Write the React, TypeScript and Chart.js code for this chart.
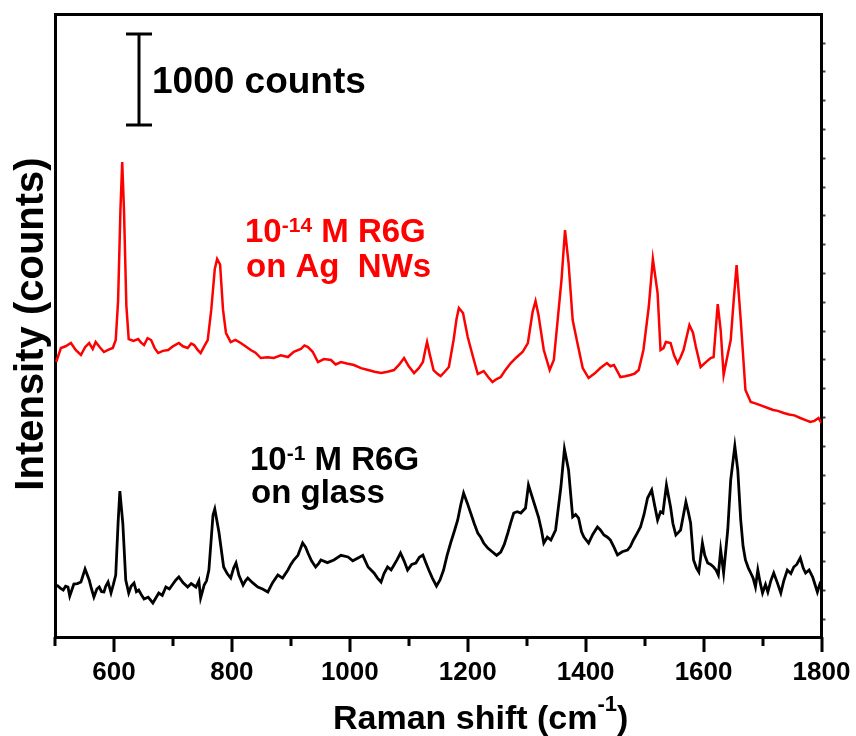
import React, { useEffect, useRef } from 'react';
import { Chart, registerables } from 'chart.js';

Chart.register(...registerables);

const FONT = '"Liberation Sans", Arial, Helvetica, sans-serif';

// Axis ranges (x: Raman shift in cm-1, y: counts)
const xMin = 500;
const xMax = 1800;
const yMin = -198;
const yMax = 6650;
const xMajorTicks = [600, 800, 1000, 1200, 1400, 1600, 1800];
const xMinorTicks = [500, 700, 900, 1100, 1300, 1500, 1700];
const rightTickValues = [0, 316.8, 633.6, 950.4, 1267.2, 1584, 1900.8, 2217.6, 2534.4, 2851.2, 3168, 3484.8, 3801.6, 4118.4, 4435.2, 4752, 5068.8, 5385.6, 5702.4, 6019.2, 6336];

// Scale bar
const scaleBarCounts = 1000;
const scaleBarBase = 5434;
const scaleBarShift = 643;

// 10^-14 M R6G on Ag NWs (red)
const agShift = [
  502, 510, 518, 527, 535, 544, 551, 558, 564, 569,
  576, 583, 590, 598, 603, 607, 611, 614, 617, 621,
  625, 633, 641, 646, 651, 657, 663, 669, 675, 683,
  692, 700, 710, 717, 725, 731, 736, 742, 747, 753,
  759, 765, 771, 775, 780, 785, 790, 798, 806, 815,
  823, 832, 840, 849, 860, 871, 883, 895, 905, 917,
  923, 929, 937, 946, 956, 968, 976, 985, 995, 1007,
  1019, 1031, 1042, 1053, 1064, 1075, 1084, 1092, 1100, 1109,
  1117, 1124, 1128, 1131, 1136, 1142, 1148, 1154, 1161, 1168,
  1176, 1181, 1185, 1192, 1200, 1209, 1217, 1227, 1235, 1242,
  1249, 1256, 1264, 1273, 1283, 1293, 1302, 1310, 1315, 1320,
  1329, 1339, 1346, 1353, 1359, 1365, 1371, 1378, 1386, 1395,
  1405, 1415, 1425, 1436, 1442, 1448, 1459, 1467, 1476, 1483,
  1490, 1498, 1507, 1514, 1522, 1527, 1532, 1536, 1544, 1550,
  1556, 1561, 1566, 1576, 1582, 1587, 1595, 1603, 1612, 1617,
  1624, 1629, 1634, 1640, 1646, 1651, 1656, 1663, 1671, 1680,
  1689, 1697, 1709, 1718, 1726, 1736, 1745, 1754, 1764, 1772,
  1781, 1788, 1795, 1800,
];
const agCounts = [
  2827, 2981, 3000, 3036, 2960, 2904, 2990, 3036, 2970, 3047,
  2990, 2937, 2960, 2981, 3069, 3500, 4500, 5027, 4500, 3450,
  3080, 3060, 3080, 3040, 3014, 3090, 3069, 2980, 2926, 2950,
  2959, 3000, 3036, 3000, 2981, 3030, 3014, 2960, 2926, 3000,
  3069, 3400, 3850, 3960, 3900, 3400, 3146, 3047, 3070, 3036,
  3000, 2959, 2930, 2871, 2880, 2871, 2900, 2882, 2940, 2970,
  3010, 2992, 2940, 2827, 2860, 2849, 2800, 2827, 2810, 2794,
  2760, 2739, 2720, 2706, 2720, 2739, 2800, 2871, 2780, 2706,
  2760, 2827, 2960, 3047, 2900, 2739, 2700, 2673, 2720, 2772,
  3069, 3300, 3421, 3366, 3102, 2882, 2695, 2728, 2660, 2607,
  2640, 2662, 2740, 2816, 2880, 2937, 3036, 3377, 3498, 3344,
  2959, 2739, 2849, 3322, 3729, 4279, 3916, 3289, 3036, 2761,
  2651, 2700, 2761, 2816, 2780, 2794, 2662, 2670, 2684, 2700,
  2739, 2959, 3432, 3960, 3586, 2959, 2980, 3047, 3036, 2900,
  2816, 2880, 2959, 3234, 3150, 2992, 2772, 2820, 2871, 2882,
  3465, 3179, 2684, 2880, 3069, 3500, 3894, 3289, 2519, 2387,
  2370, 2350, 2321, 2300, 2290, 2266, 2250, 2240, 2211, 2190,
  2167, 2180, 2211, 2156,
];

// 10^-1 M R6G on glass (black)
const glassShift = [
  503, 509, 514, 518, 522, 525, 532, 538, 544, 551,
  558, 562, 566, 571, 575, 579, 583, 586, 590, 595,
  599, 603, 607, 610, 615, 620, 625, 629, 634, 638,
  642, 647, 651, 658, 666, 671, 676, 682, 688, 694,
  700, 705, 710, 717, 725, 731, 739, 744, 747, 750,
  753, 757, 761, 768, 771, 778, 786, 792, 798, 803,
  807, 812, 819, 823, 827, 835, 844, 852, 861, 869,
  878, 886, 895, 900, 905, 912, 920, 925, 929, 935,
  942, 947, 951, 962, 973, 985, 997, 1005, 1014, 1022,
  1031, 1036, 1041, 1047, 1053, 1058, 1064, 1070, 1075, 1080,
  1086, 1092, 1098, 1105, 1112, 1118, 1124, 1129, 1134, 1140,
  1147, 1153, 1159, 1165, 1171, 1177, 1183, 1188, 1193, 1199,
  1205, 1211, 1217, 1222, 1227, 1234, 1242, 1249, 1256, 1262,
  1268, 1273, 1278, 1284, 1290, 1298, 1303, 1312, 1320, 1325,
  1329, 1335, 1341, 1349, 1358, 1364, 1371, 1378, 1383, 1388,
  1393, 1397, 1405, 1412, 1420, 1425, 1431, 1437, 1442, 1448,
  1454, 1462, 1471, 1476, 1481, 1487, 1493, 1499, 1505, 1512,
  1517, 1522, 1527, 1531, 1537, 1544, 1548, 1553, 1557, 1561,
  1566, 1570, 1574, 1578, 1583, 1588, 1592, 1598, 1602, 1607,
  1612, 1617, 1621, 1625, 1629, 1634, 1641, 1646, 1653, 1658,
  1663, 1667, 1671, 1676, 1680, 1684, 1688, 1692, 1696, 1700,
  1705, 1709, 1714, 1719, 1725, 1731, 1736, 1742, 1748, 1753,
  1758, 1764, 1769, 1773, 1779, 1785, 1789, 1793, 1797, 1800,
];
const glassCounts = [
  374, 340, 319, 360, 352, 253, 385, 390, 407, 550,
  429, 330, 242, 330, 352, 300, 297, 360, 407, 286,
  380, 484, 1056, 1408, 1056, 429, 286, 360, 396, 300,
  319, 260, 220, 240, 176, 230, 286, 260, 352, 330,
  385, 430, 462, 400, 352, 390, 352, 420, 231, 300,
  374, 420, 539, 1144, 1210, 957, 572, 500, 451, 560,
  616, 480, 374, 420, 451, 400, 352, 330, 297, 400,
  484, 450, 539, 600, 649, 700, 836, 790, 726, 640,
  572, 610, 649, 620, 649, 700, 682, 640, 671, 700,
  572, 540, 506, 450, 407, 500, 572, 540, 594, 650,
  726, 640, 539, 600, 616, 680, 704, 620, 539, 450,
  363, 430, 539, 700, 836, 960, 1089, 1250, 1386, 1280,
  1166, 1050, 946, 900, 836, 780, 737, 700, 737, 820,
  946, 1060, 1166, 1180, 1166, 1221, 1474, 1287, 1122, 980,
  836, 900, 869, 979, 1452, 1870, 1639, 1122, 1150, 1111,
  960, 902, 836, 930, 1012, 980, 924, 900, 869, 790,
  704, 740, 759, 800, 869, 940, 1012, 1150, 1331, 1419,
  1250, 1089, 1180, 1166, 1474, 1232, 1050, 924, 950, 979,
  1150, 1287, 1180, 1056, 649, 560, 517, 836, 700, 616,
  600, 572, 540, 484, 759, 506, 979, 1529, 1903, 1639,
  1089, 800, 649, 560, 506, 450, 352, 539, 400, 286,
  380, 297, 420, 506, 400, 286, 420, 539, 500, 572,
  600, 671, 560, 506, 540, 462, 380, 297, 380, 341,
];

const xTitle = 'Raman shift (cm';
const xTitleSup = '-1';
const xTitleEnd = ')';
const yTitle = 'Intensity (counts)';
const scaleBarLabel = '1000 counts';
const agLabel1 = ['10', '-14', ' M R6G'];
const agLabel2 = 'on Ag  NWs';
const glassLabel1 = ['10', '-1', ' M R6G'];
const glassLabel2 = 'on glass';

type Seg = { t: string; size: number; rise: number };

function drawRich(ctx: CanvasRenderingContext2D, segs: Seg[], x: number, y: number) {
  let cx = x;
  for (const s of segs) {
    ctx.font = `bold ${s.size}px ${FONT}`;
    ctx.fillText(s.t, cx, y - s.rise);
    cx += ctx.measureText(s.t).width;
  }
}

const decorPlugin = {
  id: 'decor',
  afterDraw(chart: any) {
    const ctx: CanvasRenderingContext2D = chart.ctx;
    const xs = chart.scales.x;
    const ys = chart.scales.y;
    const area = chart.chartArea;
    ctx.save();
    ctx.fillStyle = '#000';
    // x ticks (major and minor), pointing outward
    const axisY = area.bottom;
    xMajorTicks.forEach((v) => {
      const px = Math.round(xs.getPixelForValue(v));
      ctx.fillRect(px - 1.5, axisY, 3, 15);
    });
    xMinorTicks.forEach((v) => {
      const px = Math.round(xs.getPixelForValue(v));
      ctx.fillRect(px - 1.5, axisY, 3, 9);
    });
    // scale bar
    const bx = Math.round(xs.getPixelForValue(scaleBarShift));
    const by1 = Math.round(ys.getPixelForValue(scaleBarBase));
    const by2 = Math.round(ys.getPixelForValue(scaleBarBase + scaleBarCounts));
    ctx.fillRect(bx - 1.5, by2, 3, by1 - by2);
    ctx.fillRect(bx - 13, by1 - 1.5, 26, 3);
    ctx.fillRect(bx - 13, by2 - 1.5, 26, 3);

    ctx.textBaseline = 'alphabetic';
    ctx.textAlign = 'left';
    ctx.font = `bold 37px ${FONT}`;
    ctx.fillText(scaleBarLabel, 152, 93);

    // red annotation
    ctx.fillStyle = '#ff0000';
    drawRich(ctx, [
      { t: agLabel1[0], size: 33, rise: 0 },
      { t: agLabel1[1], size: 21, rise: 10 },
      { t: agLabel1[2], size: 33, rise: 0 },
    ], 245, 242);
    ctx.font = `bold 33px ${FONT}`;
    ctx.fillText(agLabel2, 246, 277);

    // black annotation
    ctx.fillStyle = '#000';
    drawRich(ctx, [
      { t: glassLabel1[0], size: 33, rise: 0 },
      { t: glassLabel1[1], size: 21, rise: 10 },
      { t: glassLabel1[2], size: 33, rise: 0 },
    ], 250, 470);
    ctx.font = `bold 33px ${FONT}`;
    ctx.fillText(glassLabel2, 251, 503);

    // x title
    drawRich(ctx, [
      { t: xTitle, size: 34, rise: 0 },
      { t: xTitleSup, size: 22, rise: 18 },
      { t: xTitleEnd, size: 34, rise: 0 },
    ], 333, 729);

    // y title
    ctx.save();
    ctx.translate(43, 324);
    ctx.rotate(-Math.PI / 2);
    ctx.font = `bold 40px ${FONT}`;
    ctx.textAlign = 'center';
    ctx.fillText(yTitle, 0, 0);
    ctx.restore();

    ctx.restore();
  },
};

export default function App() {
  const ref = useRef<HTMLCanvasElement>(null);
  useEffect(() => {
    document.body.style.margin = '0';
    const canvas = ref.current;
    if (!canvas) return;
    const chart = new Chart(canvas, {
      type: 'line',
      data: {
        datasets: [
          {
            label: '10^-14 M R6G on Ag NWs',
            data: agShift.map((x, i) => ({ x, y: agCounts[i] })),
            borderColor: '#ff0000',
            borderWidth: 2.5,
            pointRadius: 0,
            tension: 0,
            fill: false,
            yAxisID: 'y',
            xAxisID: 'x',
          },
          {
            label: '10^-1 M R6G on glass',
            data: glassShift.map((x, i) => ({ x, y: glassCounts[i] })),
            borderColor: '#000000',
            borderWidth: 2.8,
            pointRadius: 0,
            tension: 0,
            fill: false,
            yAxisID: 'y',
            xAxisID: 'x',
          },
        ],
      },
      options: {
        responsive: false,
        animation: false,
        devicePixelRatio: 1,
        layout: { padding: 0 },
        plugins: { legend: { display: false }, tooltip: { enabled: false }, title: { display: false } },
        scales: {
          x: {
            type: 'linear',
            position: 'bottom',
            min: xMin,
            max: xMax,
            afterFit: (s: any) => { s.height = 99; },
            afterBuildTicks: (s: any) => {
              s.ticks = xMajorTicks.map((v) => ({ value: v }));
            },
            ticks: {
              autoSkip: false,
              maxRotation: 0,
              padding: 5,
              color: '#000',
              font: { family: FONT, size: 26, weight: 'bold' },
              callback: (v: any) => String(v),
            },
            grid: {
              display: true,
              drawOnChartArea: false,
              drawTicks: true,
              tickLength: 15,
              tickWidth: 3,
              tickColor: 'rgba(0,0,0,0)',
            },
            border: { display: true, width: 3, color: '#000' },
          },
          x2: {
            type: 'linear',
            position: 'top',
            min: xMin,
            max: xMax,
            afterFit: (s: any) => { s.height = 14.5; },
            ticks: { display: false },
            grid: { display: false },
            border: { display: true, width: 3, color: '#000' },
          },
          y: {
            type: 'linear',
            position: 'left',
            min: yMin,
            max: yMax,
            afterFit: (s: any) => { s.width = 55; },
            ticks: { display: false },
            grid: { display: false },
            border: { display: true, width: 3, color: '#000' },
          },
          y2: {
            type: 'linear',
            position: 'right',
            min: yMin,
            max: yMax,
            afterFit: (s: any) => { s.width = 34.5; },
            afterBuildTicks: (s: any) => {
              s.ticks = rightTickValues.map((v) => ({ value: v }));
            },
            ticks: { display: false },
            grid: {
              display: true,
              drawOnChartArea: false,
              drawTicks: true,
              tickLength: 4,
              tickWidth: 2,
              tickColor: '#444',
            },
            border: { display: true, width: 3, color: '#000' },
          },
        },
      },
      plugins: [decorPlugin],
    } as any);
    return () => chart.destroy();
  }, []);
  return (
    <div style={{ width: 856, height: 736 }}>
      <canvas ref={ref} width={856} height={736} style={{ display: 'block' }} />
    </div>
  );
}
